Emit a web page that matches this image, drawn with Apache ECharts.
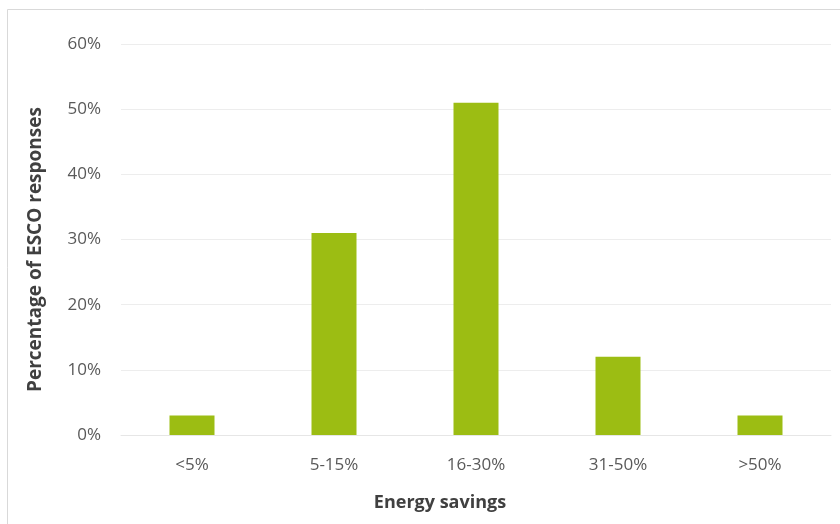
<!DOCTYPE html>
<html>
<head>
<meta charset="utf-8">
<script src="https://cdn.jsdelivr.net/npm/echarts@6/dist/echarts.min.js"></script>
<style>
  html, body { margin: 0; padding: 0; background: #fff; }
  #chart { width: 840px; height: 524px; }
</style>
</head>
<body>
<div id="chart"></div>
<script>
const categories = ['<5%', '5-15%', '16-30%', '31-50%', '>50%']
const responses = [3, 31, 51, 12, 3]
const yTicks = [0, 10, 20, 30, 40, 50, 60]

const myChart = echarts.init(document.getElementById('chart'))
myChart.setOption({
  backgroundColor: '#fff',
  textStyle: { fontFamily: 'Open Sans' },
  graphic: [{
    type: 'rect',
    shape: { x: 7.5, y: 9.5, width: 900, height: 600 },
    style: { fill: 'none', stroke: '#d9d9d9', lineWidth: 1 },
    silent: true
  }],
  grid: { left: 121, right: 9, top: 44, bottom: 89 },
  xAxis: {
    type: 'category',
    data: categories,
    name: 'Energy savings',
    nameLocation: 'middle',
    nameGap: 59,
    nameTextStyle: { fontSize: 18, fontWeight: 'bold', color: '#404040', padding: [0, 72, 0, 0] },
    axisLine: { lineStyle: { color: '#e6e6e6' } },
    axisTick: { show: false },
    axisLabel: { fontSize: 17, color: '#595959', margin: 22 }
  },
  yAxis: {
    type: 'value',
    min: yTicks[0],
    max: yTicks[yTicks.length - 1],
    interval: 10,
    name: 'Percentage of ESCO responses',
    nameLocation: 'middle',
    nameGap: 76,
    nameTextStyle: { fontSize: 19, fontWeight: 'bold', color: '#404040', padding: [0, 20, 0, 0] },
    axisLine: { show: false },
    axisTick: { show: false },
    axisLabel: { fontSize: 17, color: '#595959', margin: 20, formatter: v => v + '%' },
    splitLine: { lineStyle: { color: '#ededed' } }
  },
  series: [{
    type: 'bar',
    data: responses,
    barWidth: 45,
    itemStyle: { color: '#9cbd13' }
  }]
})
</script>
</body>
</html>
